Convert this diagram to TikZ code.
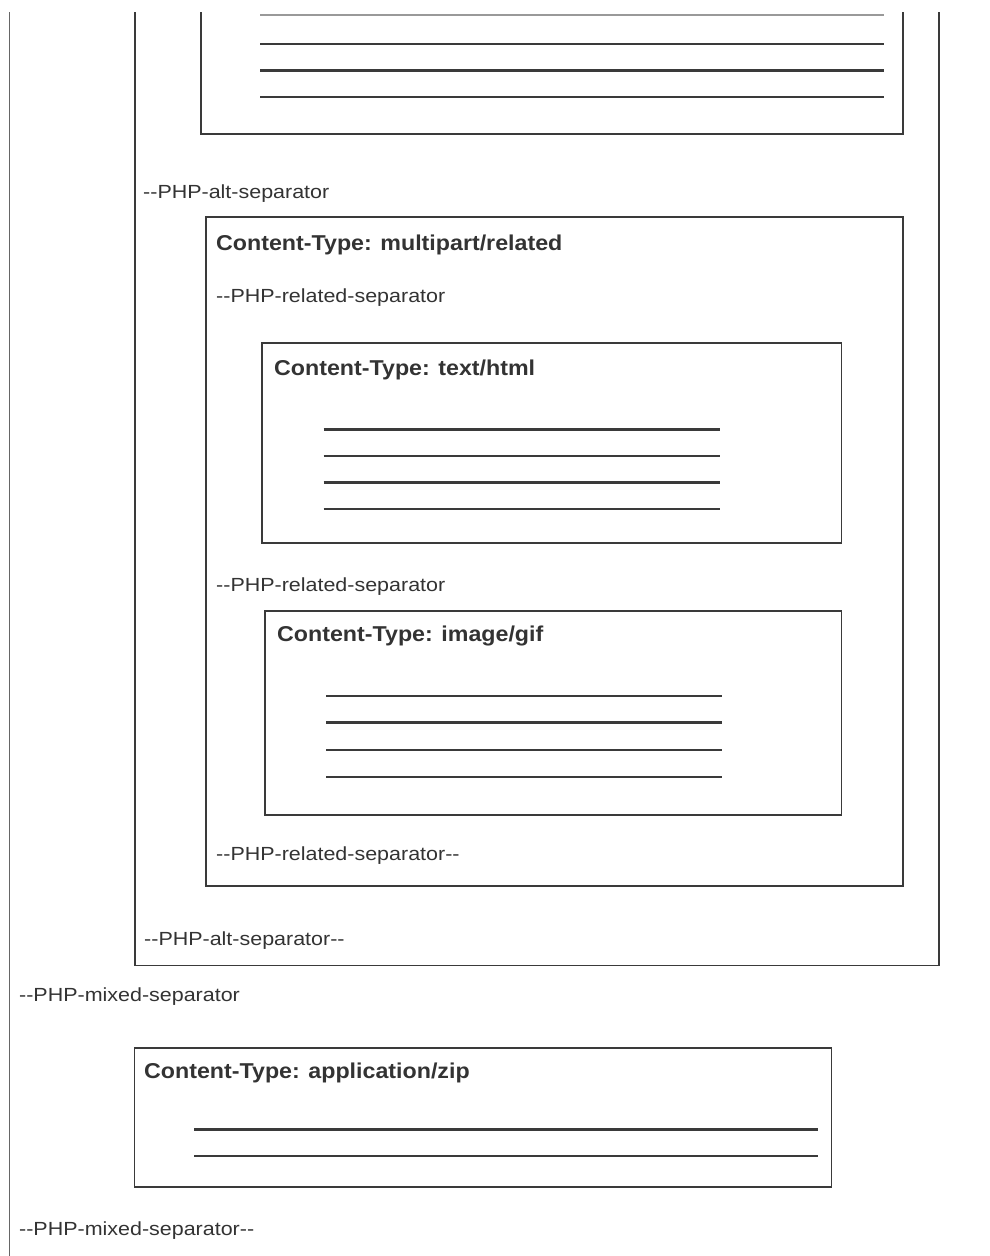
\documentclass[tikz,border=0pt]{standalone}
\usepackage{fontspec}
\setmainfont{Liberation Sans}
\newfontfamily\sepfont[FakeStretch=1.13]{Liberation Sans}
\newfontfamily\ttlfont[FakeStretch=1.08]{Liberation Sans}
\definecolor{ink}{HTML}{333333}
\definecolor{rule}{HTML}{3A3A3A}
\begin{document}
\begin{tikzpicture}[x=1pt,y=-1pt,
  boxline/.style={draw=rule,line width=1.8pt},
  textline/.style={draw=rule,line width=2.2pt},
  sep/.style={anchor=base west,inner sep=0pt,text=ink,font=\sepfont\fontsize{19}{22}\selectfont},
  ttl/.style={anchor=base west,inner sep=0pt,text=ink,font=\ttlfont\bfseries\fontsize{21.5}{25}\selectfont}]
\useasboundingbox (0,0) rectangle (989,1256);
\fill[white] (0,0) rectangle (989,1256);
% leftmost (mixed) frame edge
\draw[draw=black!60,line width=1.6pt] (9.5,12) -- (9.5,1256);
% alternative box (top cut off)
\draw[boxline] (135,12) -- (135,965.5) -- (939,965.5) -- (939,12);
% text/plain box (top cut off)
\draw[boxline] (201,12) -- (201,134) -- (903,134) -- (903,12);
\draw[textline,draw=black!40] (260,15) -- (884,15);
\foreach \y in {44,70.5,97}{\draw[textline] (260,\y) -- (884,\y);}
\node[sep] (altsep) at (143,198) {--PHP-alt-separator};
% multipart/related
\draw[boxline] (206,217) rectangle (903,886);
\node[ttl] (reltitle) at (216,250) {Content-Type: multipart/related};
\node[sep] (relsep1) at (216,302) {--PHP-related-separator};
% text/html
\draw[boxline] (262,343) rectangle (841.5,543);
\node[ttl] (htmltitle) at (274,375) {Content-Type: text/html};
\foreach \y in {429.5,456,482.5,509}{\draw[textline] (323.5,\y) -- (720,\y);}
\node[sep] (relsep2) at (216,591) {--PHP-related-separator};
% image/gif
\draw[boxline] (265,611) rectangle (841.5,815);
\node[ttl] (giftitle) at (277,641) {Content-Type: image/gif};
\foreach \y in {696,722.5,750,777}{\draw[textline] (326,\y) -- (721.5,\y);}
\node[sep] (relsep3) at (216,860) {--PHP-related-separator--};
\node[sep] (altsep2) at (144,945) {--PHP-alt-separator--};
\node[sep] (mixsep1) at (19,1001) {--PHP-mixed-separator};
% application/zip
\draw[boxline] (134.5,1048) rectangle (831.5,1187);
\node[ttl] (ziptitle) at (144,1078) {Content-Type: application/zip};
\foreach \y in {1129.5,1156}{\draw[textline] (194,\y) -- (818,\y);}
\node[sep] (mixsep2) at (19,1235) {--PHP-mixed-separator--};
\end{tikzpicture}
\end{document}
